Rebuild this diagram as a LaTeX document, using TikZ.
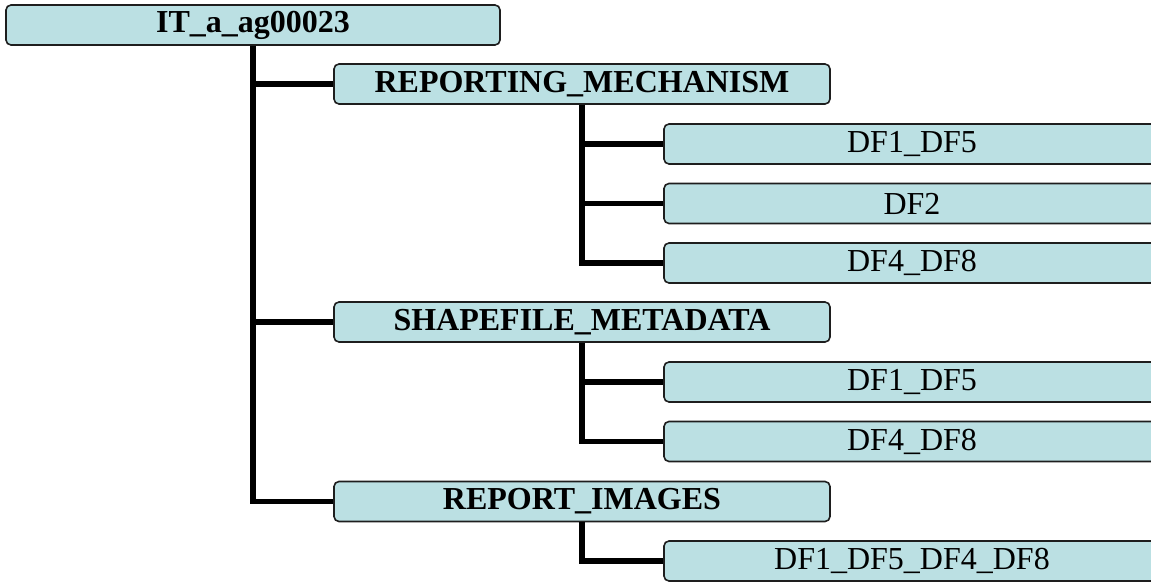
\documentclass[tikz,border=0pt]{standalone}
\usepackage{fontspec}
\setmainfont{Liberation Serif}
\definecolor{boxfill}{RGB}{187,224,227}
\definecolor{boxline}{RGB}{30,30,30}
\begin{document}
\begin{tikzpicture}[x=1pt,y=-1pt,
  box/.style={draw=boxline, line width=1.6pt, fill=boxfill, rounded corners=5pt,
    minimum height=40pt, inner sep=0pt, font=\fontsize{32}{32}\selectfont},
  rootbox/.style={box, minimum width=494pt, font=\fontsize{32}{32}\selectfont\bfseries},
  midbox/.style={box, minimum width=496pt, font=\fontsize{32}{32}\selectfont\bfseries},
  leafbox/.style={box, minimum width=496pt},
  conn/.style={line width=5.5pt, line join=miter, line cap=butt}]
\useasboundingbox (0,0) rectangle (1151,581);
\clip (0,0) rectangle (1151,581);
% level 0
\node[rootbox] (root) at (253,25) {IT\_a\_ag00023};
% level 1
\node[midbox] (rm) at (582,84) {REPORTING\_MECHANISM};
\node[midbox] (sm) at (582,322) {SHAPEFILE\_METADATA};
\node[midbox] (ri) at (582,501.5) {REPORT\_IMAGES};
% level 2
\node[leafbox] (rm1) at (912,144) {DF1\_DF5};
\node[leafbox] (rm2) at (912,203.5) {DF2};
\node[leafbox] (rm3) at (912,263) {DF4\_DF8};
\node[leafbox] (sm1) at (912,382) {DF1\_DF5};
\node[leafbox] (sm2) at (912,441.5) {DF4\_DF8};
\node[leafbox] (ri1) at (912,561) {DF1\_DF5\_DF4\_DF8};
% connectors
\draw[conn] (root.south) |- (rm.west);
\draw[conn] (root.south) |- (sm.west);
\draw[conn] (root.south) |- (ri.west);
\draw[conn] (rm.south) |- (rm1.west);
\draw[conn] (rm.south) |- (rm2.west);
\draw[conn] (rm.south) |- (rm3.west);
\draw[conn] (sm.south) |- (sm1.west);
\draw[conn] (sm.south) |- (sm2.west);
\draw[conn] (ri.south) |- (ri1.west);
\end{tikzpicture}
\end{document}
